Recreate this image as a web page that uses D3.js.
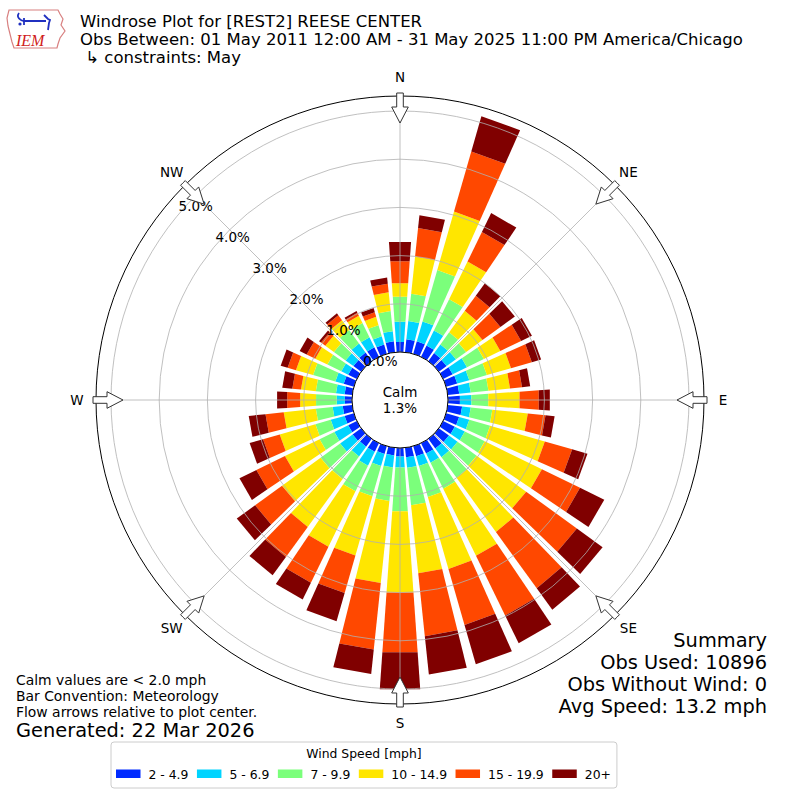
<!DOCTYPE html>
<html>
<head>
<meta charset="utf-8">
<script src="https://cdn.jsdelivr.net/npm/d3@7"></script>
<style>
body { margin: 0; background: #fff; }
svg { font-family: "DejaVu Sans", sans-serif; }
</style>
</head>
<body>
<svg id="chart" width="800" height="800"></svg>
<script>
// wind directions (deg, where wind blows from)
var directions = [0,10,20,30,40,50,60,70,80,90,100,110,120,130,140,150,160,170,
                  180,190,200,210,220,230,240,250,260,270,280,290,300,310,320,330,340,350];
var speedBins = ["2 - 4.9", "5 - 6.9", "7 - 9.9", "10 - 14.9", "15 - 19.9", "20+"];
var binColors = ["#002aff", "#00d4ff", "#7bff7b", "#ffe600", "#ff4800", "#800000"];

// percent of observations per direction, one array per speed bin
var pct2to5 = [.21,.27,.27,.26,.21,.20,.22,.24,.24,.25,.30,.28,.27,.26,.25,.24,.22,.20,
               .18,.16,.17,.20,.20,.22,.20,.20,.20,.15,.16,.22,.20,.20,.22,.22,.20,.23];
var pct5to7 = [.42,.38,.43,.35,.22,.24,.33,.26,.24,.24,.18,.22,.23,.22,.22,.21,.21,.22,
               .23,.25,.26,.32,.25,.32,.32,.30,.21,.17,.18,.18,.16,.20,.23,.23,.18,.21];
var pct7to10 = [.52,.57,1.11,.72,.31,.26,.39,.38,.37,.35,.45,.45,.46,.49,.53,.60,.67,.78,
                .91,.70,.65,.59,.58,.50,.34,.33,.35,.43,.42,.48,.32,.30,.35,.33,.24,.42];
var pct10to15 = [.28,.78,1.26,.87,.55,.42,.38,.52,.45,.65,.74,1.18,1.32,1.27,1.39,1.55,1.55,1.42,
                 1.69,1.71,1.28,1.28,1.23,.99,.80,.77,.67,.33,.31,.37,.28,.22,.25,.17,.18,.39];
var pct15to20 = [.46,.59,1.30,.68,.39,.46,.48,.45,.25,.40,.37,.59,.88,1.30,1.44,1.38,1.21,1.31,
                 1.24,1.39,.81,.83,.77,.69,.66,.36,.38,.27,.18,.18,.20,.11,.13,.07,.10,.18];
var pct20up = [.40,.27,.76,.44,.32,.37,.25,.20,.17,.23,.19,.33,.56,.66,.55,.64,.85,.80,
               .77,.51,.61,.39,.47,.47,.39,.29,.35,.21,.21,.15,.16,.05,.05,.04,.09,.13];

var ringTicks = [0, 1, 2, 3, 4, 5];
var compassNames = ["N", "NE", "E", "SE", "S", "SW", "W", "NW"];
var compassDeg = [0, 45, 90, 135, 180, 225, 270, 315];
var calmPct = 1.3;

var titleLines = ["Windrose Plot for [REST2] REESE CENTER",
  "Obs Between: 01 May 2011 12:00 AM - 31 May 2025 11:00 PM America/Chicago",
  " \u21b3 constraints: May"];
var noteLines = ["Calm values are < 2.0 mph", "Bar Convention: Meteorology",
  "Flow arrows relative to plot center."];
var summaryLines = ["Summary", "Obs Used: 10896", "Obs Without Wind: 0", "Avg Speed: 13.2 mph"];

var cx = 400, cy = 400;
var svg = d3.select("#chart");

var series = [pct2to5, pct5to7, pct7to10, pct10to15, pct15to20, pct20up];
var rows = directions.map(function(d, i) {
  var o = {dir: d};
  speedBins.forEach(function(k, j) { o[k] = series[j][i]; });
  return o;
});
var stacked = d3.stack().keys(speedBins)(rows);

var r = d3.scaleLinear().domain([0, 5]).range([48, 289]);
var ang = d3.scaleLinear().domain([0, 360]).range([0, 2 * Math.PI]);
var opening = 8;

function pt(deg, rad) {
  var a = ang(deg);
  return [cx + rad * Math.sin(a), cy - rad * Math.cos(a)];
}

function barPath(dir, v0, v1) {
  var p = d3.path();
  var a = pt(dir - opening / 2, r(v0)), b = pt(dir + opening / 2, r(v0)),
      c = pt(dir + opening / 2, r(v1)), e = pt(dir - opening / 2, r(v1));
  p.moveTo(a[0], a[1]);
  p.lineTo(b[0], b[1]);
  p.lineTo(c[0], c[1]);
  p.lineTo(e[0], e[1]);
  p.closePath();
  return p.toString();
}

// bars
var gBars = svg.append("g");
gBars.selectAll("g")
  .data(stacked)
  .enter()
  .append("g")
  .attr("fill", function(d, i) { return binColors[i]; })
  .selectAll("path")
  .data(function(d) { return d; })
  .enter()
  .append("path")
  .attr("d", function(d) { return barPath(d.data.dir, d[0], d[1]); });

// grid on top
var gGrid = svg.append("g").attr("fill", "none").attr("stroke", "#b0b0b0").attr("stroke-width", 0.8);
gGrid.selectAll("circle")
  .data(ringTicks)
  .enter()
  .append("circle")
  .attr("cx", cx).attr("cy", cy)
  .attr("r", function(d) { return r(d); });
gGrid.selectAll("line")
  .data(compassDeg)
  .enter()
  .append("line")
  .attr("x1", function(d) { return pt(d, r(0))[0]; })
  .attr("y1", function(d) { return pt(d, r(0))[1]; })
  .attr("x2", function(d) { return pt(d, 304)[0]; })
  .attr("y2", function(d) { return pt(d, 304)[1]; });

svg.append("circle").attr("cx", cx).attr("cy", cy).attr("r", 304)
  .attr("fill", "none").attr("stroke", "#000").attr("stroke-width", 1);

// calm circle
svg.append("circle").attr("cx", cx).attr("cy", cy).attr("r", r(0))
  .attr("fill", "#fff").attr("stroke", "#000").attr("stroke-width", 1);
svg.append("text").attr("x", cx).attr("y", 397).attr("text-anchor", "middle")
  .attr("font-size", 13.5).text("Calm");
svg.append("text").attr("x", cx).attr("y", 413).attr("text-anchor", "middle")
  .attr("font-size", 13.5).text(calmPct.toFixed(1) + "%");

// ring labels
svg.append("g").selectAll("text")
  .data(ringTicks)
  .enter()
  .append("text")
  .attr("x", function(d) { return pt(310, r(d))[0]; })
  .attr("y", function(d) { return pt(310, r(d))[1] - 3; })
  .attr("font-size", 13.5)
  .text(function(d) { return d.toFixed(1) + "%"; });

// flow arrows
var arrowShape = [[0, 307], [3.3, 307], [3.3, 293], [8.3, 293], [0, 277],
                  [-8.3, 293], [-3.3, 293], [-3.3, 307]];
svg.append("g").selectAll("path")
  .data(compassDeg)
  .enter()
  .append("path")
  .attr("d", function(d) {
    var a = ang(d);
    return d3.line()(arrowShape.map(function(q) {
      return [cx + q[1] * Math.sin(a) + q[0] * Math.cos(a),
              cy - q[1] * Math.cos(a) + q[0] * Math.sin(a)];
    })) + "Z";
  })
  .attr("fill", "#fff").attr("stroke", "#333").attr("stroke-width", 1);

// compass labels
svg.append("g").selectAll("text")
  .data(compassNames)
  .enter()
  .append("text")
  .attr("x", function(d, i) { return pt(compassDeg[i], 323)[0]; })
  .attr("y", function(d, i) { return pt(compassDeg[i], 323)[1]; })
  .attr("text-anchor", "middle")
  .attr("dominant-baseline", "central")
  .attr("font-size", 13.5)
  .text(function(d) { return d; });

// title
svg.append("g").selectAll("text")
  .data(titleLines)
  .enter()
  .append("text")
  .attr("x", 80)
  .attr("y", function(d, i) { return 26.5 + i * 18; })
  .attr("font-size", 16.5)
  .attr("xml:space", "preserve")
  .style("white-space", "pre")
  .text(function(d) { return d; });

// logo
var logo = svg.append("g");
logo.append("path")
  .attr("d", "M9,10 L58,10 L60,14 L63,19 L61,25 L65,31 L60,38 L58,44 L57,48 L14,48 L12,42 L10,34 L8,26 L7,18 Z")
  .attr("fill", "none").attr("stroke", "#d88080").attr("stroke-width", 1.2);
logo.append("path")
  .attr("d", "M19,13 Q16,17 21,20 L23,21 M23,21 L46,21 M44,15 L48,19 L50,20 L49,23 L48,30 M24,18 L24,25")
  .attr("fill", "none").attr("stroke", "#2030c0").attr("stroke-width", 1.8);
logo.append("circle").attr("cx", 20).attr("cy", 24).attr("r", 1.6).attr("fill", "#2030c0");
logo.append("text").attr("x", 16).attr("y", 46).attr("font-family", "Liberation Serif, serif")
  .attr("font-style", "italic").attr("font-size", 16).attr("fill", "#d02020").text("IEM");

// notes bottom left
svg.append("g").selectAll("text")
  .data(noteLines)
  .enter()
  .append("text")
  .attr("x", 16)
  .attr("y", function(d, i) { return 685 + i * 16.2; })
  .attr("font-size", 13.9)
  .text(function(d) { return d; });
svg.append("text").attr("x", 16).attr("y", 737).attr("font-size", 19.4).text("Generated: 22 Mar 2026");

// summary
svg.append("g").selectAll("text")
  .data(summaryLines)
  .enter()
  .append("text")
  .attr("x", 767)
  .attr("y", function(d, i) { return 647 + i * 22; })
  .attr("text-anchor", "end")
  .attr("font-size", 19.4)
  .text(function(d) { return d; });

// legend
var leg = svg.append("g");
var legBox = leg.append("rect").attr("y", 742).attr("height", 46).attr("rx", 3)
  .attr("fill", "#fff").attr("stroke", "#cccccc").attr("stroke-width", 1);
var lx = 116;
speedBins.forEach(function(b, i) {
  leg.append("rect").attr("x", lx).attr("y", 769.5).attr("width", 24.5).attr("height", 8.5)
    .attr("fill", binColors[i]);
  var t = leg.append("text").attr("x", lx + 32.5).attr("y", 779).attr("font-size", 12.4).text(b);
  lx = lx + 32.5 + t.node().getComputedTextLength() + 8.5;
});
var legRight = lx - 8.5 + 6;
legBox.attr("x", 111).attr("width", legRight - 111);
leg.append("text").attr("x", (111 + legRight) / 2).attr("y", 758).attr("text-anchor", "middle")
  .attr("font-size", 12.4).text("Wind Speed [mph]");
</script>
</body>
</html>
